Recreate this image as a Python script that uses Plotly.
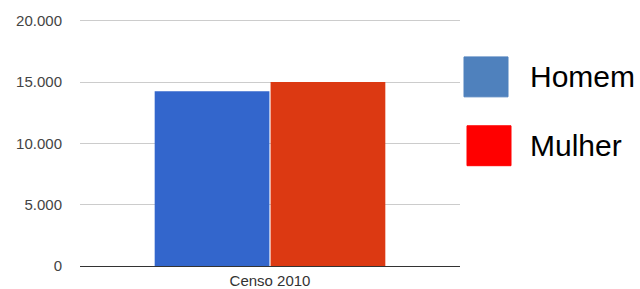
import plotly.graph_objects as go

categories = ["Censo 2010"]
series_names = ["Homem", "Mulher"]
homem = [14260]
mulher = [15030]
bar_colors = ["#3366CC", "#DC3912"]
legend_colors = ["#4F81BD", "#FF0000"]
y_ticks = [0, 5000, 10000, 15000, 20000]

fig = go.Figure()
for name, vals, col in zip(series_names, [homem, mulher], bar_colors):
    fig.add_trace(go.Bar(x=categories, y=vals, name=name, marker=dict(color=col, line=dict(width=0))))

W, H = 640, 289
L, R, T, B = 80, 180, 17, 22.5
YMAX = 20000 * (H - T - B) / 245.5
fig.update_layout(
    width=W, height=H, margin=dict(l=L, r=R, t=T, b=B, autoexpand=False),
    paper_bgcolor="white", plot_bgcolor="white",
    barmode="group", bargap=0.39, bargroupgap=0.01,
    separators=",.", showlegend=False,
    font=dict(family="Arial, Liberation Sans", color="#444"),
)
fig.update_yaxes(range=[0, YMAX], tickvals=y_ticks, tickformat=",d", automargin=False,
                 showgrid=True, gridcolor="#CCCCCC", gridwidth=1, zeroline=False,
                 showline=False, ticks="", ticklabelstandoff=17,
                 tickfont=dict(size=15, color="#444"))
fig.update_xaxes(showline=True, linecolor="#333", linewidth=1, ticks="", automargin=False,
                 tickfont=dict(size=15, color="#333"), ticklabelstandoff=1)

# Legend (drawn as squares + labels beside the plot)
sq = [(464, 57, 508, 97), (467, 126, 511, 166)]
for (x0, y0, x1, y1), col, name in zip(sq, legend_colors, series_names):
    fig.add_shape(type="rect", xref="paper", yref="paper",
                  x0=(x0 - L) / (W - L - R), x1=(x1 - L) / (W - L - R),
                  y0=(H - B - y1) / (H - T - B), y1=(H - B - y0) / (H - T - B),
                  fillcolor=col, line=dict(width=1, color=col))
    fig.add_annotation(xref="paper", yref="paper", x=(528 - L) / (W - L - R),
                       y=(H - B - (y0 + y1) / 2) / (H - T - B),
                       text=name, showarrow=False, xanchor="left", yanchor="middle",
                       font=dict(size=30, color="black", family="Arial, Liberation Sans"))

fig.write_html("out.html", config={"displayModeBar": False},
               post_script="document.body.style.margin='0';document.body.style.overflow='hidden';")
